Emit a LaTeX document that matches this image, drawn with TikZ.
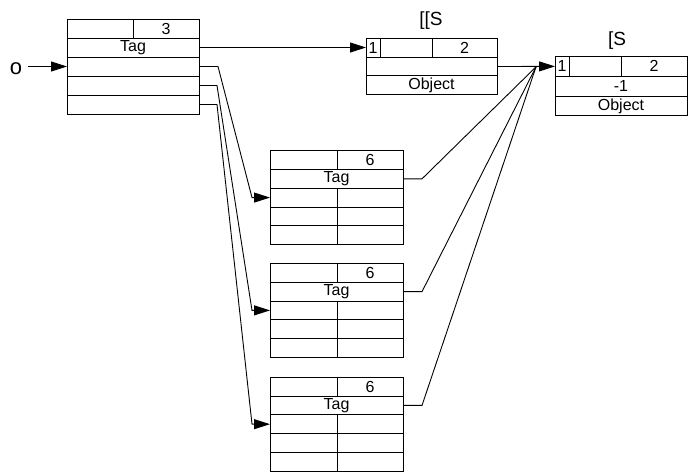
\documentclass[tikz,border=0pt]{standalone}
\usepackage{fontspec}
\setmainfont{Liberation Sans}
\usetikzlibrary{arrows.meta,calc}
\tikzset{
  cell/.style={draw, line width=0.9pt, inner sep=0pt, outer sep=0pt, anchor=north west,
    font=\fontsize{16}{16}\selectfont},
  conn/.style={line width=0.9pt},
  arr/.style={conn, -{Triangle[length=16pt,width=10pt]}},
  lbl/.style={inner sep=0pt, font=\fontsize{19}{19}\selectfont},
  varlbl/.style={inner xsep=6pt, inner ysep=0pt, font=\fontsize{22}{22}\selectfont}
}
\newcommand\cellat[6]{\node[cell, minimum width=#4pt, minimum height=#5pt] (#1) at (#2,#3) {#6};}
\begin{document}
\begin{tikzpicture}[x=1pt, y=-1pt]
\useasboundingbox (0,0) rectangle (695,472);
% Box A
\cellat{A1a}{67}{19}{66}{19}{}
\cellat{A1b}{133}{19}{66}{19}{3}
\cellat{A2}{67}{38}{132}{19}{Tag}
\cellat{A3}{67}{57}{132}{19}{}
\cellat{A4}{67}{76}{132}{19}{}
\cellat{A5}{67}{95}{132}{19}{}
% Box B
\cellat{B1a}{366}{38.3}{14}{18.8}{1}
\cellat{B1b}{380}{38.3}{52}{18.8}{}
\cellat{B1c}{432}{38.3}{65}{18.8}{2}
\cellat{B2}{366}{57.1}{131}{18.8}{}
\cellat{B3}{366}{75.9}{131}{18.8}{Object}
\node[lbl] (lblB) at (431,20.5) {[[S};
% Box C
\cellat{C1a}{555}{56.5}{14}{19.75}{1}
\cellat{C1b}{569}{56.5}{52}{19.75}{}
\cellat{C1c}{621}{56.5}{66}{19.75}{2}
\cellat{C2}{555}{76.25}{132}{19.75}{-1}
\cellat{C3}{555}{96}{132}{19.75}{Object}
\node[lbl] (lblC) at (617,41) {[S};
% Boxes D
\foreach \i/\t in {1/150.7, 2/263.5, 3/377.3}{
  \pgfmathsetmacro\yb{\t+18.75}
  \pgfmathsetmacro\yc{\t+37.5}
  \pgfmathsetmacro\yd{\t+56.25}
  \pgfmathsetmacro\ye{\t+75}
  \cellat{D\i-1a}{270}{\t}{67}{18.75}{}
  \cellat{D\i-1b}{337}{\t}{66}{18.75}{6}
  \cellat{D\i-2}{270}{\yb}{133}{18.75}{Tag}
  \cellat{D\i-3a}{270}{\yc}{67}{18.75}{}
  \cellat{D\i-3b}{337}{\yc}{66}{18.75}{}
  \cellat{D\i-4a}{270}{\yd}{67}{18.75}{}
  \cellat{D\i-4b}{337}{\yd}{66}{18.75}{}
  \cellat{D\i-5a}{270}{\ye}{67}{18.75}{}
  \cellat{D\i-5b}{337}{\ye}{66}{18.75}{}
}
% variable
\node[varlbl] (o) at (16,69) {o};
\draw[arr] (o.east |- A3.west) -- (A3.west);
% connectors
\draw[arr] (A2.east) -- (A2.east -| B1a.west);
\draw[arr] (B2.east) -- (C1a.west);
\draw[arr] (A3.east) -- ++(19,0) -- ($(D1-3a.west)+(-18,0)$) -- (D1-3a.west);
\draw[arr] (A4.east) -- ++(18,0) -- ($(D2-3a.west)+(-18,0)$) -- (D2-3a.west);
\draw[arr] (A5.east) -- ++(18,0) -- ($(D3-3a.west)+(-18,0)$) -- (D3-3a.west);
\coordinate (cin) at ($(C1a.west)+(-19,0.5)$);
\foreach \i in {1,2,3}{
  \draw[conn] (D\i-2.east) -- ++(19,0) -- (cin);
}
\end{tikzpicture}
\end{document}
